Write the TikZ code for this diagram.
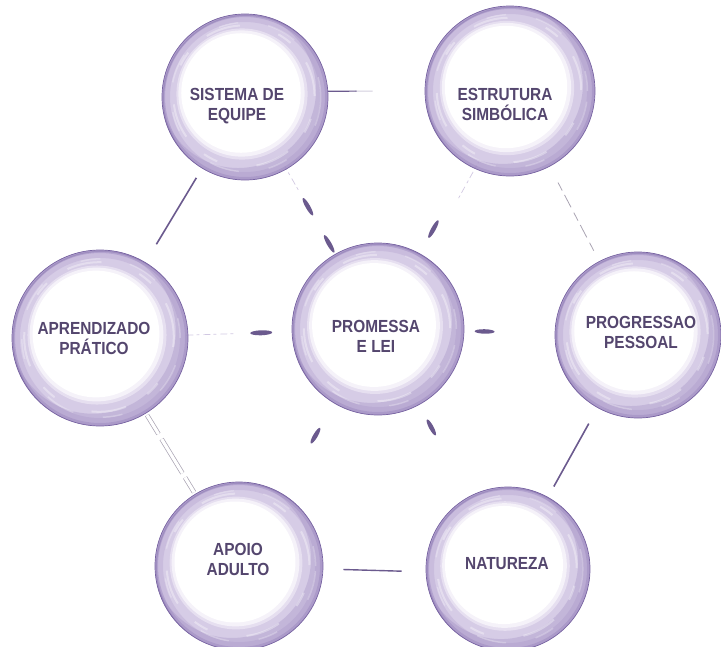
\documentclass[tikz,border=0pt]{standalone}
\usepackage{fontspec}
\setmainfont{Liberation Sans}[FakeStretch=0.88]
\usetikzlibrary{shapes.geometric,calc}
\definecolor{ringA}{HTML}{E6DFF0}
\definecolor{ringB}{HTML}{D6CCE6}
\definecolor{ringC}{HTML}{BBAAD4}
\definecolor{ringD}{HTML}{9A86BE}
\definecolor{edgeC}{HTML}{7864A2}
\definecolor{txtC}{HTML}{54466E}
\definecolor{lineC}{HTML}{6B5A8E}
\definecolor{grayC}{HTML}{A9A3B2}
\begin{document}
\begin{tikzpicture}[x=1pt,y=-1pt,
  bubble/.style={circle, inner sep=0pt, minimum size=2*#1pt, fill=ringB,
    draw=edgeC, line width=0.7pt,
    path picture={
      \draw[ringC, opacity=.45, line width=8pt]
        (path picture bounding box.center) circle[radius=#1pt-4pt];
      \draw[ringD, opacity=.45, line width=3pt]
        (path picture bounding box.center) circle[radius=#1pt-1.5pt];
      \fill[ringD, opacity=.3, even odd rule]
        (path picture bounding box.center) circle[radius=#1pt]
        ([shift={(-7pt,7pt)}]path picture bounding box.center) circle[radius=0.94*#1pt];
      \draw[white, opacity=.35, line width=2pt, dash pattern=on 35pt off 25pt on 15pt off 40pt]
        ([shift={(-1pt,1pt)}]path picture bounding box.center) circle[radius=0.85*#1pt];
      \draw[white, opacity=.25, line width=1.5pt, dash pattern=on 20pt off 45pt on 30pt off 30pt]
        ([shift={(1pt,0pt)}]path picture bounding box.center) circle[radius=0.9*#1pt];
      \fill[ringA]
        ([shift={(-3pt,3pt)}]path picture bounding box.center) circle[radius=0.79*#1pt];
      \fill[white, opacity=.6]
        ([shift={(-3.5pt,3.5pt)}]path picture bounding box.center) circle[radius=0.76*#1pt];
      \fill[white]
        ([shift={(-4pt,4pt)}]path picture bounding box.center) circle[radius=0.72*#1pt];
      \draw[edgeC, opacity=.35, line width=1.2pt]
        ([shift={(1.3pt,-1.3pt)}]path picture bounding box.center) circle[radius=#1pt];
    }},
  lbl/.style={font=\fontsize{17.5}{20}\selectfont\bfseries, text=txtC, align=center, inner sep=0pt},
  conn/.style={draw=lineC, line width=1.6pt},
  thin/.style={draw=grayC, line width=0.8pt},
  spoke/.style={ellipse, fill=lineC, inner sep=0pt, minimum width=20pt, minimum height=4.5pt, sloped},
  faint/.style={draw=ringD, line width=0.7pt, opacity=0.45, dash pattern=on 3pt off 3pt on 7pt off 4pt}
]
\useasboundingbox (0,0) rectangle (721,646);

% bubbles
\node[bubble=83] (sis)  at (245,97)  {};
\node[bubble=85] (est)  at (510,91)  {};
\node[bubble=88] (apr)  at (100,338) {};
\node[bubble=86] (prom) at (378,329) {};
\node[bubble=83] (pro)  at (638,335) {};
\node[bubble=84] (apo)  at (239,566) {};
\node[bubble=82] (nat)  at (508,569) {};

% labels
\node[lbl] (sis-t)  at (237,106) {SISTEMA DE\\EQUIPE};
\node[lbl] (est-t)  at (505,104) {ESTRUTURA\\SIMBÓLICA};
\node[lbl] (apr-t)  at (94,338)  {APRENDIZADO\\PRÁTICO};
\node[lbl] (prom-t) at (376,336) {PROMESSA\\E LEI};
\node[lbl] (pro-t)  at (641,332) {PROGRESSAO\\PESSOAL};
\node[lbl] (apo-t)  at (238,559) {APOIO\\ADULTO};
\node[lbl] (nat-t)  at (507,564) {NATUREZA};

% outer connectors
\draw[draw=lineC, line width=1.2pt, shorten >=68pt] (sis.4) -- (est.180);
\draw[draw=lineC, line width=1.2pt, opacity=.3, shorten <=27pt, shorten >=52pt] (sis.4) -- (est.180);
\draw[conn, shorten <=11pt, shorten >=21pt] (sis) -- (apr);
\draw[thin, dash pattern=on 9pt off 5pt on 14pt off 6pt, shorten <=18pt, shorten >=11pt] (est) -- (pro);
\draw[conn, shorten <=18pt, shorten >=12pt] (pro) -- (nat);
\draw[conn, line width=1.4pt, shorten <=20pt, shorten >=24pt] (apo.-2) -- (nat.182);
\draw[draw=grayC, line width=0.7pt, double=white, double distance=3.2pt,
      dash pattern=on 22pt off 6pt on 40pt off 5pt, shorten <=2pt, shorten >=2pt] (apr) -- (apo);

% spokes around the centre
\path (prom.center) -- (sis.center) node[spoke, pos=0.367] (sp1) {} node[spoke, pos=0.527] (sp2) {};
\path (prom.center) -- (est.center) node[spoke, pos=0.42] (sp3) {};
\path (prom.center) -- (apr.center) node[spoke, pos=0.42, minimum width=22pt, minimum height=5pt] (sp4) {};
\path (prom.center) -- (pro.center) node[spoke, pos=0.41] (sp5) {};
\path (prom.center) -- (apo.center) node[spoke, pos=0.45, minimum width=18pt] (sp6) {};
\path (prom.center) -- (nat.center) node[spoke, pos=0.41, minimum width=18pt] (sp7) {};

% faint traces
\draw[faint] ($(prom)!0.52!(apr)$) -- ($(prom)!0.69!(apr)$);
\draw[faint] ([xshift=8pt]$(prom)!0.55!(est)$) -- ([xshift=8pt]$(prom)!0.7!(est)$);
\draw[faint] ($(prom)!0.6!(sis)$) -- ($(prom)!0.7!(sis)$);
\end{tikzpicture}
\end{document}
